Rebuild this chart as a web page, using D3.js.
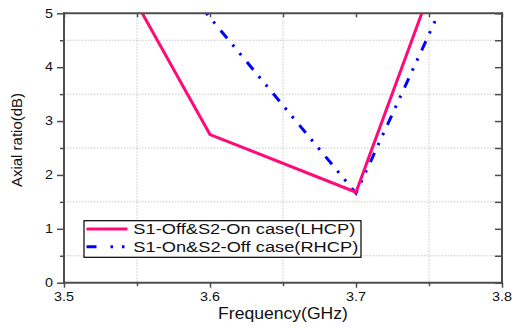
<!DOCTYPE html>
<html>
<head>
<meta charset="utf-8">
<script src="https://cdn.jsdelivr.net/npm/d3@7"></script>
<style>
  html, body { margin: 0; padding: 0; background: #fff; }
  text { font-family: "Liberation Sans", Arial, sans-serif; fill: #111; }
</style>
</head>
<body>
<svg id="chart" width="512" height="328"></svg>
<script>
// ---- data ----
const frequencies = [3.5, 3.6, 3.7, 3.8];
const lhcpValues = [7.6, 2.75, 1.68, 9.05];
const rhcpValues = [8.2, 4.92, 1.66, 7.56];
const seriesNames = ["S1-Off&S2-On case(LHCP)", "S1-On&S2-Off case(RHCP)"];
const xTicks = [3.5, 3.6, 3.7, 3.8];
const xMinorTicks = [3.55, 3.65, 3.75];
const yTicks = [0, 1, 2, 3, 4, 5];
const yMinorTicks = [0.5, 1.5, 2.5, 3.5, 4.5];
const xTitle = "Frequency(GHz)";
const yTitle = "Axial ratio(dB)";

(function () {
// ---- layout ----
const svg = d3.select("#chart");
const pL = 64, pR = 502, pT = 13.3, pB = 282.7;
const x = d3.scaleLinear().domain([3.5, 3.8]).range([pL, pR]);
const y = d3.scaleLinear().domain([0, 5]).range([pB, pT]);
const pink = "#ff0a78", blue = "#0000ff", axisCol = "#4d4d4d";
const blueDash = "10,8.5,2.5,8.5,2.5,9";

svg.append("defs").append("clipPath").attr("id", "clip")
  .append("rect").attr("x", pL).attr("y", pT)
  .attr("width", pR - pL).attr("height", pB - pT);

// grid (dotted, at minor positions)
const grid = svg.append("g").attr("stroke", "#c8c8c8").attr("stroke-width", 1)
  .attr("stroke-dasharray", "1.5,1.5");
grid.selectAll(".gx").data(xMinorTicks).join("line")
  .attr("x1", d => x(d)).attr("x2", d => x(d)).attr("y1", pT).attr("y2", pB);
grid.selectAll(".gy").data(yMinorTicks).join("line")
  .attr("y1", d => y(d)).attr("y2", d => y(d)).attr("x1", pL).attr("x2", pR);

// lines
const pts = vals => frequencies.map((f, i) => [f, vals[i]]);
const lineGen = d3.line().x(d => x(d[0])).y(d => y(d[1]));
const plot = svg.append("g").attr("clip-path", "url(#clip)");
plot.append("path").datum(pts(rhcpValues)).attr("d", lineGen)
  .attr("fill", "none").attr("stroke", blue).attr("stroke-width", 3)
  .attr("stroke-dasharray", blueDash);
plot.append("path").datum(pts(lhcpValues)).attr("d", lineGen)
  .attr("fill", "none").attr("stroke", pink).attr("stroke-width", 3)
  .attr("stroke-linejoin", "miter");

// axes
function styleAxis(g) {
  g.select(".domain").remove();
  g.selectAll("line").attr("stroke", axisCol).attr("stroke-width", 1.5);
}
svg.append("g").attr("transform", `translate(${pL},0)`)
  .call(d3.axisLeft(y).tickValues(yTicks).tickSize(7).tickFormat(""))
  .call(styleAxis);
svg.append("g").attr("transform", `translate(${pL},0)`)
  .call(d3.axisLeft(y).tickValues(yMinorTicks).tickSize(4).tickFormat(""))
  .call(styleAxis);
svg.append("g").attr("transform", `translate(${pR},0)`)
  .call(d3.axisLeft(y).tickValues(yTicks.concat(yMinorTicks)).tickSize(7).tickFormat(""))
  .call(styleAxis);
svg.append("g").attr("transform", `translate(0,${pB})`)
  .call(d3.axisBottom(x).tickValues(xTicks).tickSize(5).tickFormat(""))
  .call(styleAxis);
svg.append("g").attr("transform", `translate(0,${pB})`)
  .call(d3.axisBottom(x).tickValues(xMinorTicks).tickSize(3.5).tickFormat(""))
  .call(styleAxis);
svg.append("g").attr("transform", `translate(0,${pT})`)
  .call(d3.axisBottom(x).tickValues(xTicks.concat(xMinorTicks)).tickSize(4).tickFormat(""))
  .call(styleAxis);

// frame
const frame = svg.append("g").attr("stroke", axisCol).attr("fill", "none");
frame.append("line").attr("x1", pL).attr("x2", pL).attr("y1", pT - 1).attr("y2", pB + 1).attr("stroke-width", 2);
frame.append("line").attr("x1", pL - 1).attr("x2", pR + 1).attr("y1", pB).attr("y2", pB).attr("stroke-width", 2);
frame.append("line").attr("x1", pR).attr("x2", pR).attr("y1", pT - 1).attr("y2", pB + 1).attr("stroke-width", 2);
frame.append("line").attr("x1", pL - 1).attr("x2", pR + 1).attr("y1", pT).attr("y2", pT).attr("stroke-width", 2);

// stretched text helper
function stext(g, tx, ty, str, size, sx, anchor) {
  return g.append("text")
    .attr("transform", `translate(${tx},${ty}) scale(${sx},1)`)
    .attr("font-size", size).attr("text-anchor", anchor || "start").text(str);
}

// tick labels
const labels = svg.append("g");
yTicks.forEach(v => stext(labels, 53, y(v) + 4.3, d3.format("d")(v), 12.5, 1.15, "end"));
xTicks.forEach(v => stext(labels, x(v), 301, d3.format(".1f")(v), 12, 1.2, "middle"));

// axis titles
stext(labels, x(3.65), 319, xTitle, 16, 1.1, "middle");
labels.append("text").attr("transform", `translate(22,140) rotate(-90)`)
  .attr("font-size", 15).attr("text-anchor", "middle").text(yTitle);

// legend
const lg = svg.append("g");
lg.append("rect").attr("x", 84).attr("y", 220.7).attr("width", 277).attr("height", 36.6)
  .attr("fill", "#fff").attr("stroke", "#000").attr("stroke-width", 1.2);
const rowY = [229, 246.7];
const colors = [pink, blue];
const dashes = [null, "10,14,2.5,9,2.5,9"];
seriesNames.forEach((name, i) => {
  lg.append("line").attr("x1", 86.5).attr("x2", 127.5).attr("y1", rowY[i]).attr("y2", rowY[i])
    .attr("stroke", colors[i]).attr("stroke-width", 3)
    .attr("stroke-dasharray", dashes[i]);
  stext(lg, 133.3, rowY[i] + 4.8, name, 14.5, 1.26, "start");
});
})();
</script>
</body>
</html>
